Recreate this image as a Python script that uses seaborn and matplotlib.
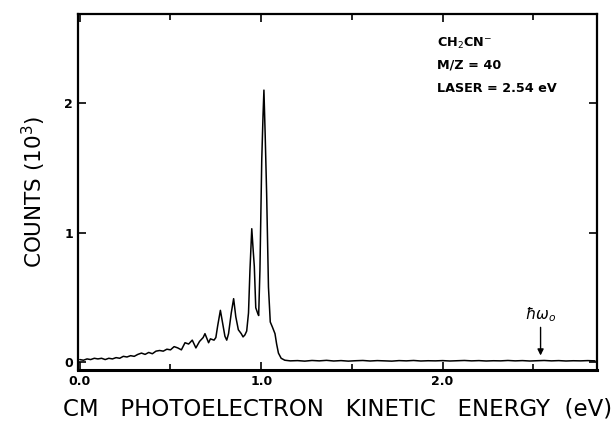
import matplotlib
matplotlib.use("Agg")
import matplotlib.pyplot as plt
import seaborn as sns
import pandas as pd
from matplotlib.ticker import MultipleLocator, FixedLocator

# ---- data ----
energy_ev = [0.00, 0.02, 0.04, 0.06, 0.08, 0.10, 0.12, 0.14, 0.16, 0.18,
             0.20, 0.22, 0.24, 0.26, 0.28, 0.30, 0.32, 0.34, 0.36, 0.38,
             0.40, 0.42, 0.44, 0.46, 0.48, 0.50, 0.52, 0.54, 0.56, 0.58,
             0.60, 0.62, 0.64, 0.66, 0.68, 0.69, 0.71, 0.72, 0.74, 0.75,
             0.76, 0.775, 0.79, 0.80, 0.81, 0.82, 0.835, 0.848, 0.86, 0.874,
             0.89, 0.90, 0.91, 0.92, 0.93, 0.938, 0.948, 0.955, 0.962, 0.97,
             0.98, 0.986, 0.993, 1.003, 1.01, 1.015, 1.022, 1.03, 1.04, 1.05,
             1.062, 1.076, 1.085, 1.095, 1.11, 1.13,
             1.16, 1.20, 1.24, 1.28, 1.32, 1.36, 1.40, 1.44, 1.48, 1.52,
             1.56, 1.60, 1.64, 1.68, 1.72, 1.76, 1.80, 1.84, 1.88, 1.92,
             1.96, 2.00, 2.04, 2.08, 2.12, 2.16, 2.20, 2.24, 2.28, 2.32,
             2.36, 2.40, 2.44, 2.48, 2.52, 2.56, 2.60, 2.64, 2.68, 2.72,
             2.76, 2.80, 2.84]
counts_1e3 = [0.020, 0.015, 0.025, 0.020, 0.030, 0.025, 0.030, 0.020, 0.030, 0.025,
              0.035, 0.030, 0.045, 0.040, 0.050, 0.045, 0.060, 0.070, 0.060, 0.075,
              0.065, 0.085, 0.090, 0.085, 0.100, 0.095, 0.120, 0.110, 0.095, 0.150,
              0.140, 0.170, 0.110, 0.160, 0.190, 0.220, 0.150, 0.180, 0.170, 0.190,
              0.280, 0.400, 0.280, 0.200, 0.170, 0.220, 0.380, 0.490, 0.350, 0.250,
              0.220, 0.195, 0.210, 0.240, 0.380, 0.710, 1.030, 0.880, 0.740, 0.420,
              0.380, 0.360, 0.710, 1.560, 1.900, 2.100, 1.750, 1.300, 0.580, 0.310,
              0.270, 0.220, 0.140, 0.070, 0.030, 0.015,
              0.010, 0.012, 0.008, 0.013, 0.010, 0.014, 0.009, 0.012, 0.008, 0.011,
              0.013, 0.009, 0.012, 0.010, 0.008, 0.012, 0.010, 0.013, 0.009, 0.011,
              0.010, 0.012, 0.009, 0.011, 0.013, 0.010, 0.012, 0.009, 0.011, 0.010,
              0.013, 0.010, 0.012, 0.009, 0.011, 0.013, 0.010, 0.012, 0.009, 0.011,
              0.010, 0.012, 0.010]
x_tick_vals = [0.0, 1.0, 2.0]
x_tick_labels = ["0.0", "1.0", "2.0"]
y_tick_vals = [0, 1, 2]
y_tick_labels = ["0", "1", "2"]
laser_ev = 2.54
annot_lines = ["CH$_2$CN$^{-}$", "M/Z = 40", "LASER = 2.54 eV"]

df = pd.DataFrame({"energy": energy_ev, "counts": counts_1e3})

sns.set_style("ticks")
plt.rcParams["font.family"] = ["DejaVu Sans"]
for k in ["text.color", "axes.labelcolor", "xtick.color", "ytick.color",
          "axes.edgecolor"]:
    plt.rcParams[k] = "black"

fig = plt.figure(figsize=(6.14, 4.26), dpi=100)
ax = fig.add_axes([0.127, 0.131, 0.845, 0.836])

sns.lineplot(data=df, x="energy", y="counts", ax=ax, color="black",
             linewidth=1.1, estimator=None, sort=False)

ax.set_xlim(-0.01, 2.85)
ax.set_ylim(-0.062, 2.687)

ax.xaxis.set_major_locator(FixedLocator(x_tick_vals))
ax.set_xticklabels(x_tick_labels, fontsize=9, fontweight="bold")
ax.xaxis.set_minor_locator(MultipleLocator(0.5))
ax.yaxis.set_major_locator(FixedLocator(y_tick_vals))
ax.set_yticklabels(y_tick_labels, fontsize=9, fontweight="bold")

ax.tick_params(which="both", direction="in", top=True, right=True, width=1.2,
               colors="black")
ax.tick_params(which="major", length=6)
ax.tick_params(which="minor", length=4)

for s in ax.spines.values():
    s.set_linewidth(1.6)
    s.set_color("black")
ax.spines["bottom"].set_linewidth(2.2)

ax.set_xlabel("CM   PHOTOELECTRON   KINETIC   ENERGY  (eV)", fontsize=16.5,
              labelpad=7, color="black")
ax.set_ylabel("COUNTS (10$^3$)", fontsize=15.5, labelpad=12, color="black")

ys = [2.46, 2.29, 2.11]
for t, yy in zip(annot_lines, ys):
    ax.text(1.97, yy, t, fontsize=9.2, fontweight="bold", ha="left",
            va="center", color="black")

ax.annotate("", xy=(laser_ev, 0.03), xytext=(laser_ev, 0.29),
            arrowprops=dict(arrowstyle="-|>", color="black", lw=1.0,
                            mutation_scale=9))
ax.text(laser_ev, 0.37, r"$\hbar\omega_o$", fontsize=11, ha="center",
        va="center", color="black")

fig.savefig("out.png", dpi=100)
